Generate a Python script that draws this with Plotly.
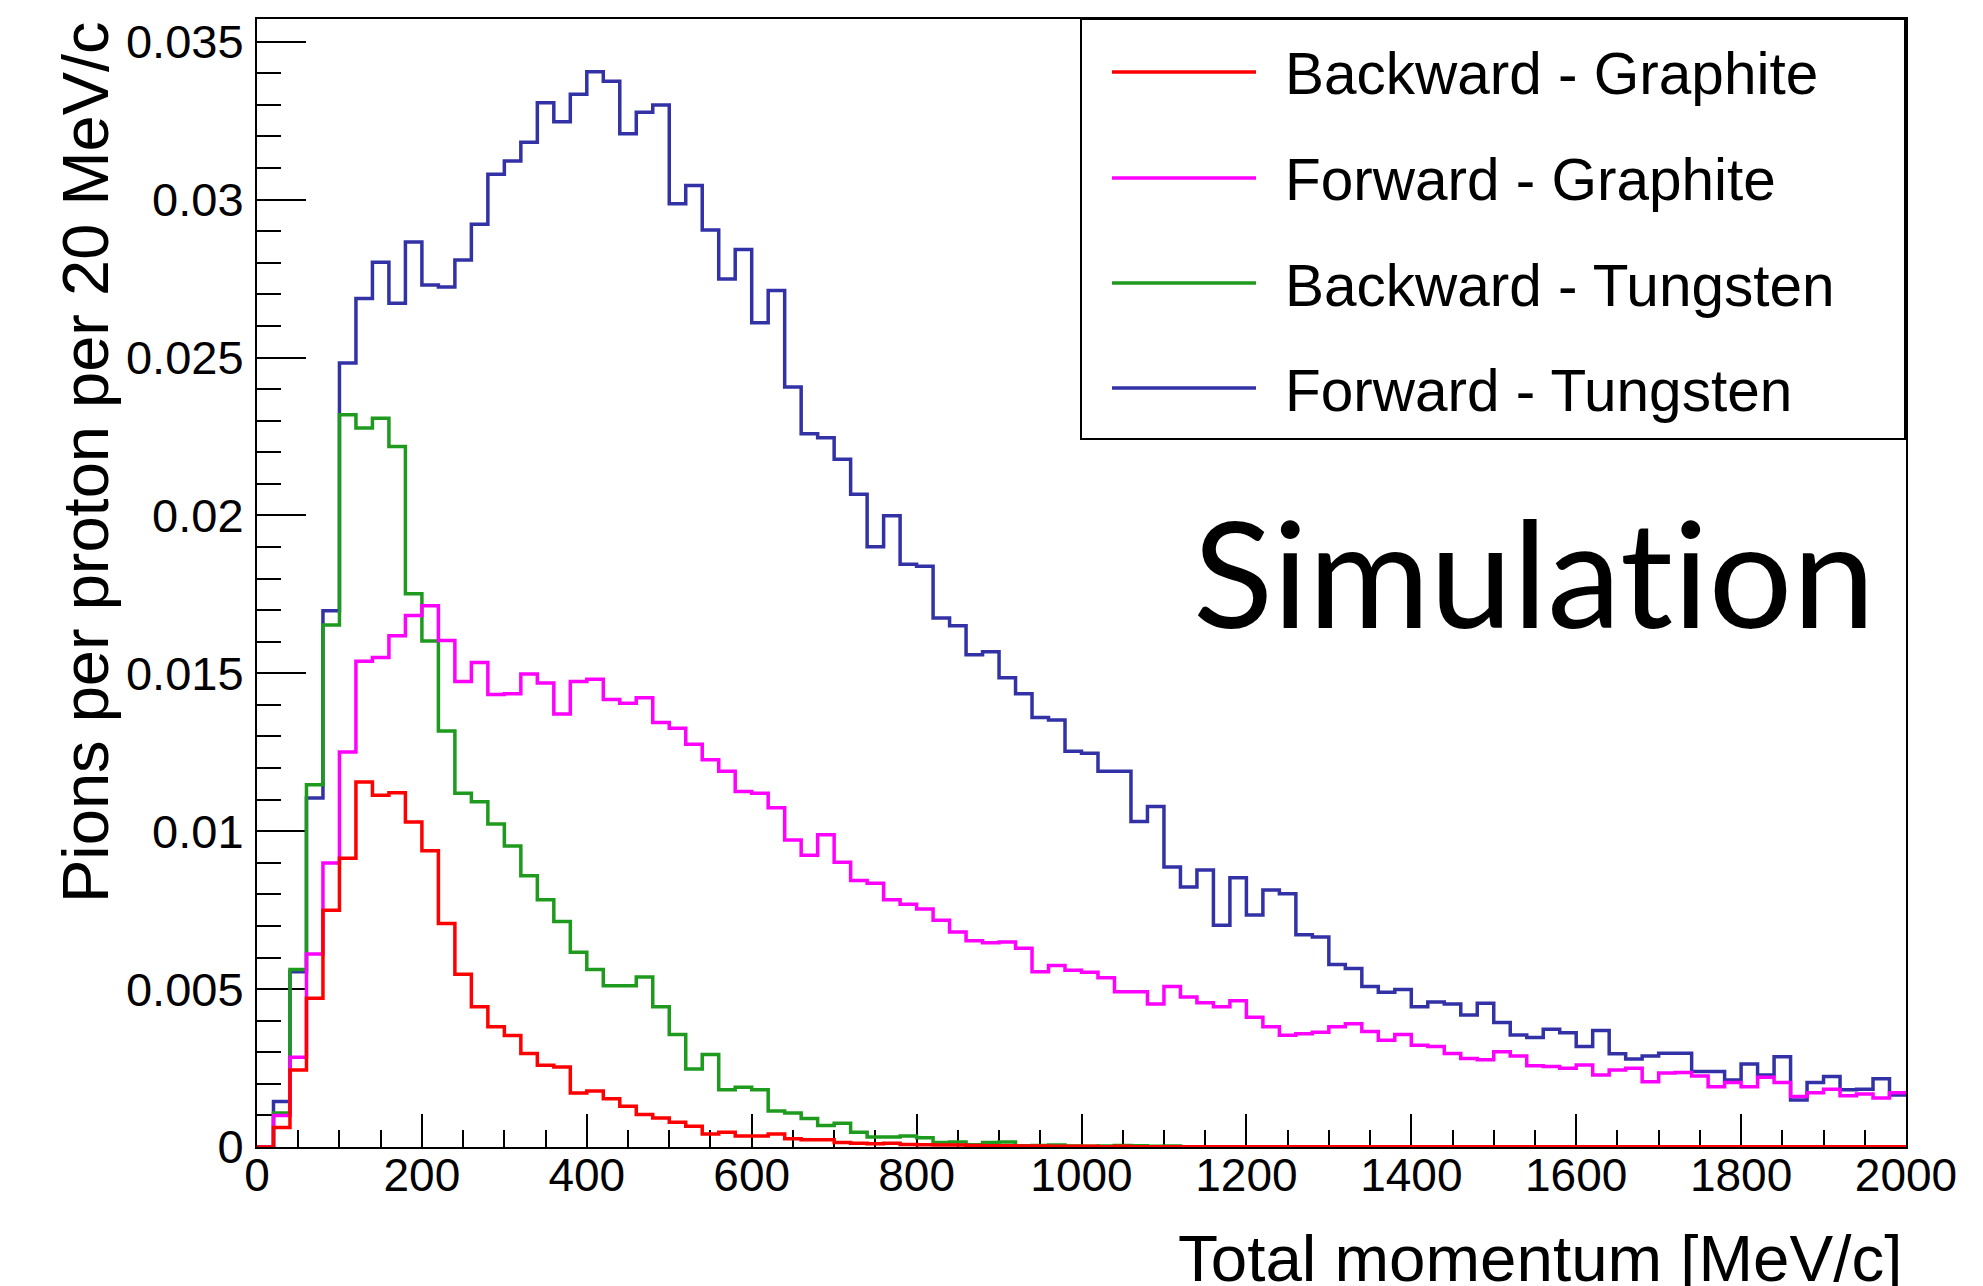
import numpy as np
import plotly.graph_objects as go

# ---------------- data (values in units of 1e-3 pions / proton / 20 MeV/c) -------------
bin_width = 20          # MeV/c
p_min, p_max = 0, 2000  # MeV/c

backward_graphite = [
    0, 0.62, 2.44, 4.71, 7.50, 9.14, 11.56, 11.14, 11.22, 10.29,
    9.38, 7.08, 5.47, 4.44, 3.81, 3.53, 2.96, 2.59, 2.53, 1.71,
    1.77, 1.53, 1.29, 1.03, 0.92, 0.78, 0.66, 0.41, 0.47, 0.35,
    0.35, 0.41, 0.26, 0.23, 0.23, 0.14, 0.12, 0.10, 0.12, 0.08,
    0.07, 0.06, 0.06, 0.05, 0.04, 0.04, 0.03, 0.03, 0.02, 0.02,
    0.02, 0.01, 0.02, 0.01, 0.01, 0.01, 0.01, 0.01, 0.01, 0.01,
    0.01, 0.01, 0.01, 0.01, 0.01, 0.01, 0.01, 0.01, 0.01, 0.01,
    0.01, 0.01, 0.01, 0.01, 0.01, 0.01, 0.01, 0.01, 0.01, 0.01,
    0.01, 0.01, 0.01, 0.01, 0.01, 0.01, 0.01, 0.01, 0.01, 0.01,
    0.01, 0.01, 0.01, 0.01, 0.01, 0.01, 0.01, 0.01, 0.01, 0.01,
]
forward_graphite = [
    0, 1.00, 2.84, 6.11, 8.99, 12.51, 15.38, 15.50, 16.19, 16.83,
    17.14, 16.04, 14.74, 15.34, 14.33, 14.35, 14.98, 14.69, 13.71, 14.74,
    14.81, 14.17, 14.05, 14.23, 13.44, 13.26, 12.75, 12.26, 11.90, 11.26,
    11.20, 10.74, 9.72, 9.24, 9.89, 9.02, 8.44, 8.35, 7.83, 7.69,
    7.54, 7.18, 6.81, 6.53, 6.47, 6.49, 6.29, 5.55, 5.75, 5.60,
    5.53, 5.36, 4.92, 4.92, 4.53, 5.08, 4.75, 4.57, 4.44, 4.63,
    4.11, 3.81, 3.54, 3.59, 3.63, 3.81, 3.90, 3.66, 3.38, 3.56,
    3.22, 3.18, 2.96, 2.80, 2.76, 3.02, 2.88, 2.57, 2.55, 2.49,
    2.60, 2.28, 2.44, 2.49, 2.07, 2.34, 2.36, 2.25, 1.91, 2.04,
    1.91, 2.21, 2.04, 1.60, 1.72, 1.83, 1.62, 1.68, 1.55, 1.72,
]
backward_tungsten = [
    0, 1.08, 5.62, 11.47, 16.53, 23.19, 22.77, 23.08, 22.18, 17.52,
    16.02, 13.17, 11.20, 10.93, 10.23, 9.53, 8.59, 7.83, 7.14, 6.17,
    5.62, 5.11, 5.11, 5.38, 4.44, 3.56, 2.47, 2.93, 1.81, 1.89,
    1.81, 1.14, 1.08, 0.90, 0.68, 0.75, 0.47, 0.32, 0.32, 0.35,
    0.29, 0.14, 0.16, 0.07, 0.14, 0.16, 0.04, 0.05, 0.06, 0.03,
    0.02, 0.03, 0.05, 0.04, 0.02, 0.03, 0.01, 0.0, 0.0, 0.0,
    0.0, 0.0, 0.0, 0.0, 0.0, 0.0, 0.0, 0.0, 0.0, 0.0,
    0.0, 0.0, 0.0, 0.0, 0.0, 0.0, 0.0, 0.0, 0.0, 0.0,
    0.0, 0.0, 0.0, 0.0, 0.0, 0.0, 0.0, 0.0, 0.0, 0.0,
    0.0, 0.0, 0.0, 0.0, 0.0, 0.0, 0.0, 0.0, 0.0, 0.0,
]
forward_tungsten = [
    0, 1.44, 5.55, 11.05, 16.98, 24.83, 26.87, 28.02, 26.72, 28.66,
    27.30, 27.23, 28.09, 29.22, 30.80, 31.22, 31.82, 33.07, 32.47, 33.34,
    34.05, 33.75, 32.09, 32.77, 33.00, 29.87, 30.45, 29.04, 27.49, 28.42,
    26.10, 27.12, 24.07, 22.59, 22.46, 21.78, 20.67, 19.01, 19.99, 18.45,
    18.39, 16.75, 16.51, 15.59, 15.68, 14.86, 14.35, 13.60, 13.52, 12.53,
    12.47, 11.90, 11.90, 10.31, 10.78, 8.87, 8.23, 8.77, 7.02, 8.53,
    7.35, 8.14, 8.02, 6.72, 6.65, 5.78, 5.65, 5.08, 4.90, 4.99,
    4.44, 4.59, 4.53, 4.18, 4.55, 3.94, 3.55, 3.47, 3.73, 3.62,
    3.18, 3.69, 2.95, 2.79, 2.88, 2.97, 2.97, 2.39, 2.39, 2.12,
    2.63, 2.28, 2.86, 1.49, 2.04, 2.23, 1.81, 1.83, 2.16, 1.65,
]
value_scale = 1e-3

series_names = ["Backward - Graphite", "Forward - Graphite",
                "Backward - Tungsten", "Forward - Tungsten"]
series_values = [backward_graphite, forward_graphite,
                 backward_tungsten, forward_tungsten]
series_colors = ["#ff0000", "#ff00ff", "#1e9a1e", "#3232a6"]

y_tick_vals = [0, 0.005, 0.01, 0.015, 0.02, 0.025, 0.03, 0.035]
y_tick_text = ["0", "0.005", "0.01", "0.015", "0.02", "0.025", "0.03", "0.035"]
x_tick_vals = [0, 200, 400, 600, 800, 1000, 1200, 1400, 1600, 1800, 2000]
x_tick_text = [str(v) for v in x_tick_vals]

# ---------------- layout geometry ----------------
W, H = 1983, 1286
L, R, T, B = 257, 77, 19, 139
PW, PH = W - L - R, H - T - B


def px(x):
    return (x - L) / PW


def py(y):
    return (H - B - y) / PH


FONT = "Liberation Sans, Arial, Helvetica, sans-serif"

edges = np.arange(p_min, p_max + bin_width, bin_width)

fig = go.Figure()
draw_order = [3, 2, 1, 0]
for i in draw_order:
    vals = np.array(series_values[i]) * value_scale
    yy = np.append(vals, vals[-1])
    fig.add_trace(go.Scatter(
        x=edges, y=yy, mode="lines", line=dict(shape="hv", color=series_colors[i], width=3.5),
        name=series_names[i], showlegend=False, hoverinfo="skip"))

fig.update_layout(
    width=W, height=H, autosize=False,
    margin=dict(l=L, r=R, t=T, b=B, pad=0),
    paper_bgcolor="white", plot_bgcolor="white",
    showlegend=False,
    font=dict(family=FONT, color="black"),
)

fig.update_xaxes(
    range=[p_min, p_max], showgrid=False, zeroline=False,
    showline=True, linecolor="black", linewidth=2, mirror=True,
    ticks="inside", ticklen=33, tickwidth=2, tickcolor="black",
    tickvals=x_tick_vals, ticktext=x_tick_text,
    tickfont=dict(size=46, family=FONT, color="black"),
    minor=dict(ticks="inside", ticklen=17, tickwidth=2, tickcolor="black", dtick=50, tick0=0),
    layer="below traces", ticklabelstandoff=-13,
)
fig.update_yaxes(
    range=[0, 0.03572], showgrid=False, zeroline=False,
    showline=True, linecolor="black", linewidth=2, mirror=True,
    ticks="inside", ticklen=49, tickwidth=2, tickcolor="black",
    tickvals=y_tick_vals, ticktext=y_tick_text,
    tickfont=dict(size=47, family=FONT, color="black"),
    minor=dict(ticks="inside", ticklen=24, tickwidth=2, tickcolor="black", dtick=0.001, tick0=0),
    layer="below traces", ticklabelstandoff=2,
)

annotations = []
shapes = []
# axis titles
annotations.append(dict(
    text="Total momentum [MeV/c]", xref="paper", yref="paper",
    x=px(1904), y=py(1258), xanchor="right", yanchor="middle",
    showarrow=False, font=dict(size=65.5, family=FONT, color="black")))
annotations.append(dict(
    text="Pions per proton per 20 MeV/c", xref="paper", yref="paper",
    x=px(85), y=1.0, xanchor="center", yanchor="top", textangle=-90,
    showarrow=False, font=dict(size=65, family=FONT, color="black")))
# Simulation label (zero-width non-joiner avoids the "ti" ligature)
annotations.append(dict(
    text="Simulat\u200cion", xref="paper", yref="paper",
    x=px(1534), y=py(571), xanchor="center", yanchor="middle",
    showarrow=False, font=dict(size=148, family="Lato, sans-serif", color="black")))

# legend box
shapes.append(dict(type="rect", xref="paper", yref="paper",
                   x0=px(1081), x1=px(1905), y0=py(439), y1=1.0,
                   line=dict(color="black", width=2), fillcolor="white", layer="above"))
legend_rows_px = [72, 178, 283, 388]
for name, color, yrow in zip(series_names, series_colors, legend_rows_px):
    shapes.append(dict(type="line", xref="paper", yref="paper",
                       x0=px(1112), x1=px(1256), y0=py(yrow), y1=py(yrow),
                       line=dict(color=color, width=3.5), layer="above"))
    annotations.append(dict(
        text=name, xref="paper", yref="paper", x=px(1283), y=py(yrow + 2),
        xanchor="left", yanchor="middle", showarrow=False,
        font=dict(size=58.5, family=FONT, color="black")))

fig.update_layout(annotations=annotations, shapes=shapes)
fig.write_html("out.html")
